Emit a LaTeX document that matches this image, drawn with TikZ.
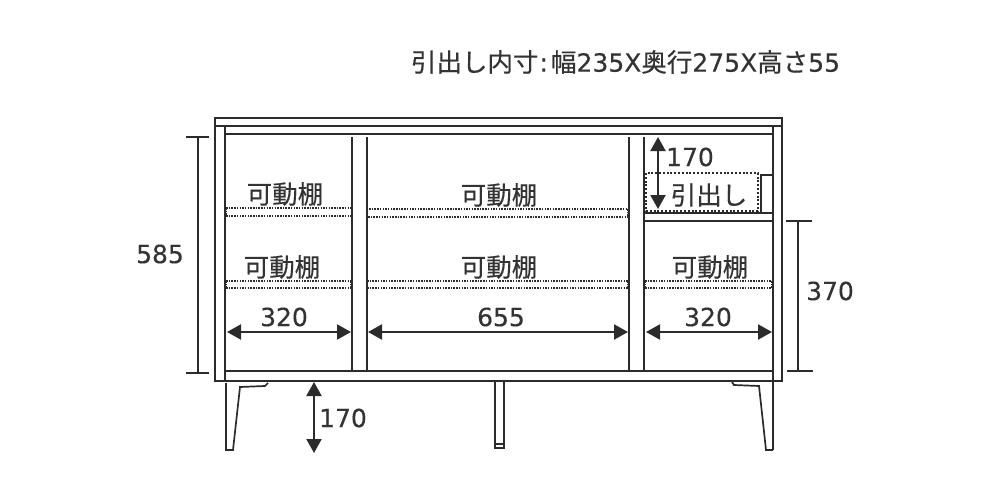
\documentclass[tikz,border=0pt]{standalone}
\usepackage{xcolor}
\usepackage{fontspec}
\setmainfont{DejaVu Sans}[FakeBold=0.25]
\newfontfamily\jpfont{Noto Sans CJK JP}[FakeBold=0.4]
\newfontfamily\numfont{DejaVu Sans}[FakeBold=0.25]
\usetikzlibrary{arrows.meta}
\definecolor{inkline}{HTML}{2B2B2B}
\definecolor{inktext}{HTML}{333333}
\tikzset{board/.style={draw=inkline,line width=1.7pt},
         shelfline/.style={draw=inkline,line width=1.3pt,dash pattern=on 1.5pt off 1.2pt},
         drawerline/.style={draw=inkline,line width=2pt,dash pattern=on 2pt off 1.8pt},
         dimline/.style={draw=inkline,line width=1.8pt},
         dimarrow/.style={draw=inkline,line width=2pt,{Triangle[length=14pt,width=15pt]}-{Triangle[length=14pt,width=15pt]}},
         dimtext/.style={text=inktext,inner sep=0pt,font=\fontsize{25}{25}\selectfont\numfont},
         jptext/.style={text=inktext,inner sep=0pt,font=\fontsize{25.5}{25}\selectfont\jpfont}}
\begin{document}
\begin{tikzpicture}[x=1pt,y=-1pt]
\useasboundingbox (0,0) rectangle (1000,500);
\fill[white] (0,0) rectangle (1000,500);
% carcass
\draw[board] (215,381)--(215,118)--(782,118)--(782,381)--cycle;
\draw[board] (215,126)--(782,126);
\draw[board] (225,134)--(773,134);
\draw[board] (225,126)--(225,381);
\draw[board] (773,126)--(773,450);
\draw[board] (225,371)--(773,371);
% partitions
\foreach \px in {352,367,629,644}
  \draw[board] (\px,137)--(\px,371);
\draw[board] (644,213)--(773,213);
\draw[board] (644,221)--(773,221);
% shelves
\foreach \sx/\sy/\ex in {226/208/351,226/216/351,369/209/628,368/217/628,226/281/351,226/288/351,367/281/628,367/288/628,645/281/772,645/288/772}
  \draw[shelfline] (\sx,\sy)--(\ex,\sy);
\draw[shelfline] (226,208)--(226,216);
\draw[shelfline] (628,209)--(628,217);
\draw[shelfline] (226,281)--(226,288);
\draw[shelfline] (367,281)--(367,288);
\draw[shelfline] (351,281)--(351,288);
\draw[shelfline] (628,281)--(628,288);
\draw[shelfline] (645,281)--(645,288);
\draw[shelfline] (772,281)--(772,288);
% drawer
\draw[drawerline] (646,173) rectangle (758,211);
\draw[board] (761,212)--(761,175)--(773,175);
% legs
\draw[board] (226,383)--(226,450)--(233,450)--(240,387)--(265,386)--(268,383);
\draw[board] (495,381)--(495,448)--(504,448)--(504,381);
\draw[board] (495,444)--(504,444);
\draw[board] (732,382)--(734,385)--(759,386)--(766,450)--(773,450);
% dimensions
\coordinate (h585t) at (198,137);
\coordinate (h585b) at (198,373);
\draw[dimline] (186,137)--(209,137);
\draw[dimline] (186,373)--(209,373);
\draw[dimline] (h585t)--(h585b);
\coordinate (h370t) at (798,221);
\coordinate (h370b) at (798,371);
\draw[dimline] (786,221)--(812,221);
\draw[dimline] (787,371)--(813,371);
\draw[dimline] (h370t)--(h370b);
\coordinate (wl1) at (227,332);
\coordinate (wl2) at (351,332);
\coordinate (wm1) at (368,332);
\coordinate (wm2) at (628,332);
\coordinate (wr1) at (646,332);
\coordinate (wr2) at (772,332);
\draw[dimarrow] (wl1)--(wl2);
\draw[dimarrow] (wm1)--(wm2);
\draw[dimarrow] (wr1)--(wr2);
\coordinate (dt) at (658,137);
\coordinate (db) at (658,209);
\draw[dimarrow] (dt)--(db);
\coordinate (lt) at (314,382);
\coordinate (lb) at (314,453);
\draw[dimarrow] (lt)--(lb);
% labels
\node[jptext] (title) at (625.5,62) {引出し内寸\hspace{1pt}{\numfont:}\hspace{3pt}幅{\numfont\fontsize{25}{25}\selectfont 235X}奥行{\numfont\fontsize{25}{25}\selectfont 275X}高さ{\numfont\fontsize{25}{25}\selectfont 55}};
\node[jptext] (shelfa) at (285,194) {可動棚};
\node[jptext] (shelfb) at (282,267) {可動棚};
\node[jptext] (shelfc) at (499,195) {可動棚};
\node[jptext] (shelfd) at (499,267) {可動棚};
\node[jptext] (shelfe) at (710,267) {可動棚};
\node[jptext] (drawer) at (709,195) {引出し};
\node[dimtext] (t585) at (160,254) {585};
\node[dimtext] (t370) at (830,291) {370};
\node[dimtext] (t320a) at (284,317) {320};
\node[dimtext] (t655) at (501,317) {655};
\node[dimtext] (t320b) at (708,317) {320};
\node[dimtext] (t170a) at (690,157) {170};
\node[dimtext] (t170b) at (343,418) {170};
\end{tikzpicture}
\end{document}
